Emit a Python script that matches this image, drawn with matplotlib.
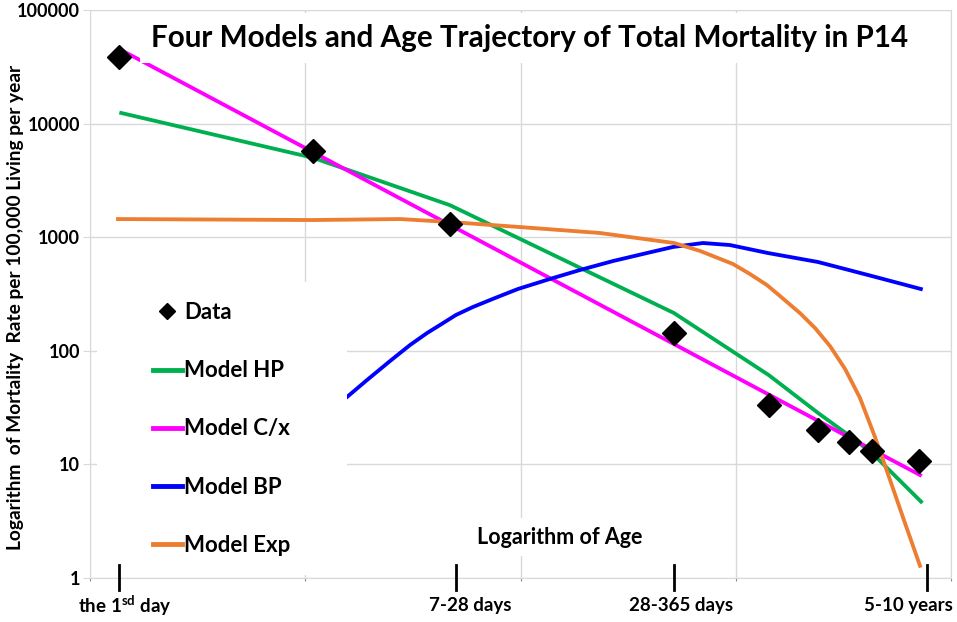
import matplotlib
matplotlib.use('Agg')
import matplotlib.pyplot as plt
from matplotlib.lines import Line2D
from matplotlib.patches import Rectangle
import matplotlib.transforms as mtransforms

plt.rcParams['font.family'] = ['Lato', 'DejaVu Sans']
plt.rcParams['font.weight'] = 'bold'
plt.rcParams['mathtext.fontset'] = 'custom'
plt.rcParams['mathtext.rm'] = 'Lato:bold'
plt.rcParams['mathtext.bf'] = 'Lato:bold'

# observed data (log of age on the x axis)
data_x = [0.135, 1.036, 1.672, 2.713, 3.154, 3.382, 3.526, 3.633, 3.851]
data_y = [38500, 5740, 1306, 143, 33.3, 20.1, 15.7, 13.1, 10.7]

# Model HP
hp_x = [0.145, 1.036, 1.672, 2.713, 3.154, 3.382, 3.526, 3.633, 3.861]
hp_y = [12400, 5000, 1915, 215, 61, 28.4, 18, 12.6, 4.7]

# Model C/x
cx_x = [0.135, 1.036, 1.672, 2.713, 3.154, 3.382, 3.526, 3.633, 3.856]
cx_y = [45400, 5610, 1282, 114.6, 41.1, 24.2, 17.3, 13.5, 8.07]

# Model BP
bp_x = [1.194, 1.287, 1.394, 1.487, 1.566, 1.626, 1.700, 1.779, 1.882,
        1.988, 2.137, 2.276, 2.430, 2.588, 2.708, 2.848, 2.973, 3.149,
        3.382, 3.526, 3.633, 3.860]
bp_y = [39.2, 55.3, 81.3, 112.5, 143.4, 168.7, 206.6, 243, 291.6,
        350, 429, 514, 617, 726, 820, 889, 853, 726,
        605, 514, 455, 350]

# Model Exp
exp_x = [0.130, 1.036, 1.440, 1.672, 1.993, 2.369, 2.713, 2.834, 2.987,
         3.066, 3.145, 3.206, 3.298, 3.368, 3.438, 3.508, 3.577, 3.647,
         3.717, 3.786, 3.856]
exp_y = [1445, 1416, 1445, 1361, 1230, 1089, 889, 757, 581,
         474, 379, 303, 215, 159, 110, 69.2, 38.5, 17.4,
         7.28, 3.05, 1.28]

age_ticks = [0.135, 1.700, 2.713, 3.888]
age_label_x = [0.163, 1.765, 2.746, 3.800]
age_labels = [r'the 1$^{\mathrm{sd}}$ day', '7-28 days', '28-365 days', '5-10 years']

y_ticks = [1, 10, 100, 1000, 10000, 100000]
y_labels = ['1', '10', '100', '1000', '10000', '100000']

grid_c = '#d9d9d9'

fig = plt.figure(figsize=(9.57, 6.22), dpi=100)
ax = fig.add_axes([90 / 957, 44 / 622, 861 / 957, 568 / 622])
ax.set_yscale('log')
ax.set_xlim(0, 4)
ax.set_ylim(1, 100000)
ax.set_xticks([0, 1, 2, 3, 4])
ax.set_xticklabels([])
ax.set_yticks(y_ticks)
ax.set_yticklabels(y_labels, fontsize=13, fontweight='bold')
ax.yaxis.set_minor_locator(matplotlib.ticker.NullLocator())
ax.tick_params(axis='y', length=5, color=grid_c, pad=2)
ax.tick_params(axis='x', length=2, color='#888888')
ax.grid(True, color=grid_c, linewidth=1)
ax.set_axisbelow(True)
for s in ax.spines.values():
    s.set_color(grid_c)

ax.plot(hp_x, hp_y, color='#00b050', lw=2.75, zorder=3)
ax.plot(cx_x, cx_y, color='#ff00ff', lw=2.75, zorder=3)
ax.plot(bp_x, bp_y, color='#0000ff', lw=2.75, zorder=3)
ax.plot(exp_x, exp_y, color='#ed7d31', lw=2.75, zorder=3)
ax.plot(data_x, data_y, 'D', color='black', ms=12, ls='none', zorder=5)

# tall black tick marks for age groups
trans = mtransforms.blended_transform_factory(ax.transData, ax.transAxes)
for t in age_ticks:
    ax.plot([t, t], [-0.021, 0.023], color='black', lw=2, transform=trans,
            clip_on=False, zorder=6)
for lx, lab in zip(age_label_x, age_labels):
    ax.text(lx, -0.048, lab, transform=trans, ha='center', va='center',
            fontsize=13.5, fontweight='bold')

# white box behind legend
ax.add_patch(Rectangle((0.008, 0.005), 0.29, 0.516, transform=ax.transAxes,
                       facecolor='white', edgecolor='none', zorder=4))
handles = [
    Line2D([], [], marker='D', color='black', ls='none', ms=8),
    Line2D([], [], color='#00b050', lw=3.5),
    Line2D([], [], color='#ff00ff', lw=3.5),
    Line2D([], [], color='#0000ff', lw=3.5),
    Line2D([], [], color='#ed7d31', lw=3.5),
]
names = ['Data', 'Model HP', 'Model C/x', 'Model BP', 'Model Exp']
leg = ax.legend(handles, names, loc='upper left',
                bbox_to_anchor=(0.06, 0.505), frameon=False,
                prop={'size': 16, 'weight': 'bold'}, handlelength=1.3,
                handletextpad=0.1, labelspacing=1.67, borderpad=0)
leg.set_zorder(7)

ax.text(0.546, 0.072, 'Logarithm of Age', transform=ax.transAxes, ha='center',
        va='center', fontsize=15.5, fontweight='bold', zorder=6,
        bbox=dict(facecolor='white', edgecolor='none', pad=6))

ax.text(0.511, 0.951, 'Four Models and Age Trajectory of Total Mortality in P14',
        transform=ax.transAxes, ha='center', va='center', fontsize=21.3,
        fontweight='bold', zorder=6,
        bbox=dict(facecolor='white', edgecolor='none', pad=8))

fig.text(16 / 957, 1 - 307 / 622,
         'Logarithm  of Mortality  Rate per 100,000 Living per year',
         rotation=90, ha='center', va='center', fontsize=13.8, fontweight='bold')

fig.savefig('out.png', dpi=100)
